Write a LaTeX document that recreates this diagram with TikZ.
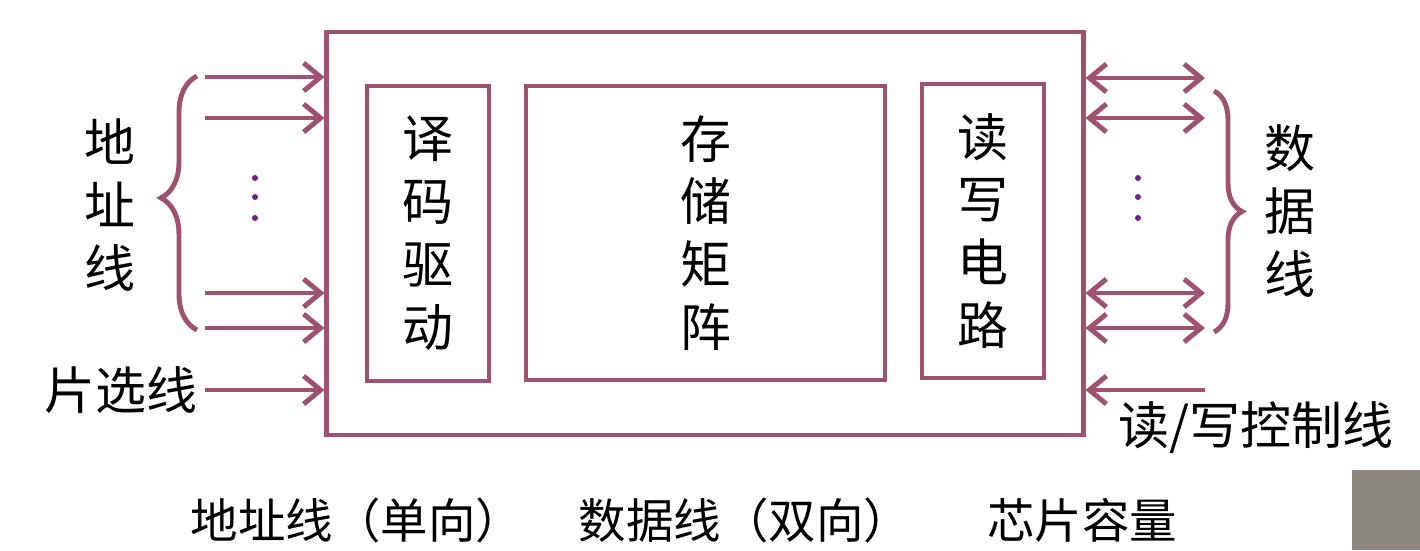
\documentclass[tikz,border=0pt]{standalone}
\usepackage{fontspec}
\newfontfamily\cjk{Noto Sans CJK SC}
\usetikzlibrary{arrows.meta,decorations.pathreplacing}

\tikzset{
  box/.style={draw=mauve, line width=1.3pt, inner sep=0pt},
  bus/.style={mauve, line width=1.4pt},
  lbl/.style={align=center, inner sep=0pt},
  note/.style={font=\cjk\fontsize{13.5}{16}\selectfont},
}

\begin{document}
\begin{tikzpicture}[x=0.01cm, y=-0.01cm, >={Straight Barb[length=1.7mm,width=2.8mm]},
    font=\cjk\fontsize{14.5}{17.9}\selectfont]
  \definecolor{mauve}{RGB}{158,82,112}
  \definecolor{dotpurple}{RGB}{112,32,128}
  \definecolor{camgray}{RGB}{140,136,128}
  \useasboundingbox (0,0) rectangle (1420,550);

  % 芯片外框与内部三块
  \node[box, minimum width=7.56cm, minimum height=4.03cm] (chip) at (705,233.5) {};
  \node[box, lbl, minimum width=1.22cm, minimum height=2.95cm] (dec) at (428,233.5) {译\\码\\驱\\动};
  \node[box, lbl, minimum width=3.59cm, minimum height=2.94cm] (mat) at (705.5,233) {存\\储\\矩\\阵};
  \node[box, lbl, minimum width=1.22cm, minimum height=2.94cm] (rwc) at (983,231) {读\\写\\电\\路};

  % 左侧：地址线、片选线
  \foreach \n/\y in {a1/77, a2/118, a3/293, a4/328, cs/390}
    \coordinate (\n) at (205,\y);
  \foreach \n in {a1, a2, a3, a4, cs}
    \draw[bus, ->] (\n) -- (\n -| chip.west);
  \draw[bus, decorate, decoration={brace, amplitude=0.36cm, aspect=0.52}] (197,330) -- (197,76);
  \node[lbl] (addr) at (110,205) {地\\址\\线};
  \node[lbl] (csel) at (121,390) {片选线};

  % 右侧：数据线（双向）、读/写控制线
  \foreach \n/\y in {d1/78, d2/118, d3/293, d4/328, rw/390}
    \coordinate (\n) at (1205,\y);
  \foreach \n in {d1, d2, d3, d4}
    \draw[bus, <->] (\n -| chip.east) -- (\n);
  \draw[bus, ->] (rw) -- (rw -| chip.east);
  \draw[bus, decorate, decoration={brace, amplitude=0.28cm, aspect=0.5}] (1214,91) -- (1214,332);
  \node[lbl] (data) at (1290,211) {数\\据\\线};
  \node[lbl] (rwl) at (1256,428) {读/写控制线};

  % 省略点
  \foreach \x in {255, 1138}
    \foreach \y in {178, 197, 218}
      \fill[dotpurple] (\x,\y) circle (3);

  % 底部说明
  \node[note] (t1) at (357,520) {地址线（单向）};
  \node[note] (t2) at (745,520) {数据线（双向）};
  \node[note] (t3) at (1082,520) {芯片容量};

  % 右下角灰块
  \fill[camgray] (1352,470) rectangle (1420,550);
\end{tikzpicture}
\end{document}
